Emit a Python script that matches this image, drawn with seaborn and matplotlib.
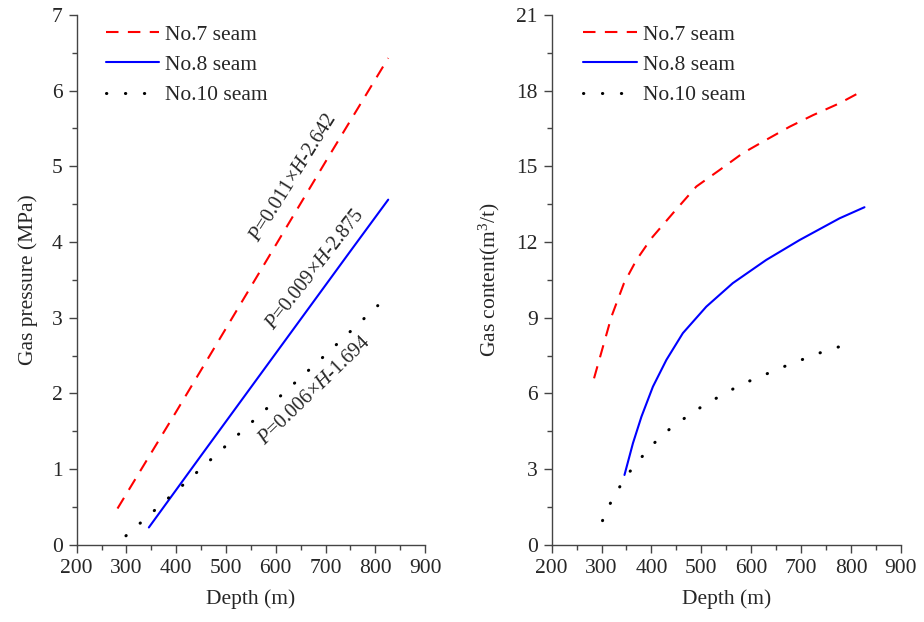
import seaborn as sns
import pandas as pd
import numpy as np
import matplotlib.pyplot as plt
from matplotlib.ticker import MultipleLocator

sns.set_theme(style="ticks")
plt.rcParams['font.family'] = ['Liberation Serif', 'DejaVu Serif']
plt.rcParams['mathtext.fontset'] = 'custom'
plt.rcParams['mathtext.rm'] = 'Liberation Serif'
plt.rcParams['mathtext.it'] = 'Liberation Serif:italic'

# Gas pressure (left panel)
p7_depth = [282, 400, 550, 700, 826]
p7_value = [0.48, 1.76, 3.41, 5.06, 6.43]
p8_depth = [345, 450, 600, 750, 826]
p8_value = [0.23, 1.18, 2.53, 3.88, 4.56]
p10_depth = [299, 400, 500, 600, 700, 805]
p10_value = [0.12, 0.71, 1.31, 1.91, 2.51, 3.16]

# Gas content (right panel)
c7_depth = [285, 320, 345, 370, 400, 443, 490, 537, 583, 630, 677, 724, 777, 827]
c7_value = [6.6, 9.05, 10.37, 11.29, 12.15, 13.14, 14.2, 14.86, 15.52, 16.05, 16.57, 17.03, 17.5, 18.03]
c8_depth = [346, 363, 380, 403, 430, 463, 510, 563, 630, 697, 777, 827]
c8_value = [2.77, 4.03, 5.08, 6.27, 7.33, 8.39, 9.44, 10.37, 11.29, 12.08, 12.94, 13.38]
c10_depth = [302, 314, 330, 345, 366, 390, 416, 444, 473, 501, 529, 557, 586, 614,
             642, 669, 697, 724, 752, 781, 809]
c10_value = [0.96, 1.52, 2.07, 2.6, 3.14, 3.7, 4.25, 4.71, 5.11, 5.48, 5.8, 6.11, 6.41, 6.63,
             6.87, 7.09, 7.3, 7.52, 7.7, 7.88, 8.05]

labels = ["No.7 seam", "No.8 seam", "No.10 seam"]
styles = [
    dict(color="#ff0000", linewidth=1.5, linestyle=(0, (6, 4.5))),
    dict(color="#0000ff", linewidth=1.5, linestyle="-"),
    dict(color="#000000", linewidth=2.2, linestyle=(0, (0.1, 6.1)), dash_capstyle="round"),
]

fs = 15.5
fig = plt.figure(figsize=(9.24, 6.22), dpi=100)
ax1 = fig.add_axes([0.083, 0.124, 0.377, 0.852])
ax2 = fig.add_axes([0.597, 0.124, 0.378, 0.852])

left_series = [(p7_depth, p7_value), (p8_depth, p8_value), (p10_depth, p10_value)]
right_series = [(c7_depth, c7_value), (c8_depth, c8_value), (c10_depth, c10_value)]

for ax, series, lx in [(ax1, left_series, 0.046), (ax2, right_series, 0.054)]:
    for (x, y), lab, st in zip(series, labels, styles):
        df = pd.DataFrame({"Depth": x, "Value": y})
        sns.lineplot(data=df, x="Depth", y="Value", ax=ax, label=lab,
                     sort=False, estimator=None, **st)
    ax.set_xlim(200, 900)
    ax.xaxis.set_major_locator(MultipleLocator(100))
    ax.xaxis.set_minor_locator(MultipleLocator(50))
    ax.set_xlabel("Depth (m)", fontsize=fs, labelpad=8)
    ax.tick_params(which="major", direction="out", length=6, width=1, labelsize=fs,
                   color="#444444", pad=4)
    ax.tick_params(which="minor", direction="out", length=3.5, width=1, color="#444444")
    for s in ["left", "bottom"]:
        ax.spines[s].set_color("#444444")
        ax.spines[s].set_linewidth(1)
    sns.despine(ax=ax)
    ax.legend(loc="upper left", bbox_to_anchor=(lx, 1.006), frameon=False,
              fontsize=fs, handlelength=2.5, handletextpad=0.25, labelspacing=0.47,
              borderaxespad=0.2)

ax1.set_ylim(0, 7)
ax1.yaxis.set_major_locator(MultipleLocator(1))
ax1.yaxis.set_minor_locator(MultipleLocator(0.5))
ax1.set_ylabel("Gas pressure (MPa)", fontsize=fs, labelpad=10)

ax2.set_ylim(0, 21)
ax2.yaxis.set_major_locator(MultipleLocator(3))
ax2.yaxis.set_minor_locator(MultipleLocator(1.5))
ax2.set_ylabel("Gas content(m$^3$/t)", fontsize=fs, labelpad=10)

# fitted equations along the lines
ax1.text(635, 4.85, "$P$=0.011×$H$-2.642", rotation=58, fontsize=fs - 1,
         ha="center", va="center", rotation_mode="anchor")
ax1.text(680, 3.63, "$P$=0.009×$H$-2.875", rotation=52, fontsize=fs - 1,
         ha="center", va="center", rotation_mode="anchor")
ax1.text(678, 2.03, "$P$=0.006×$H$-1.694", rotation=44, fontsize=fs - 1,
         ha="center", va="center", rotation_mode="anchor")

fig.savefig("out.png", dpi=100)
